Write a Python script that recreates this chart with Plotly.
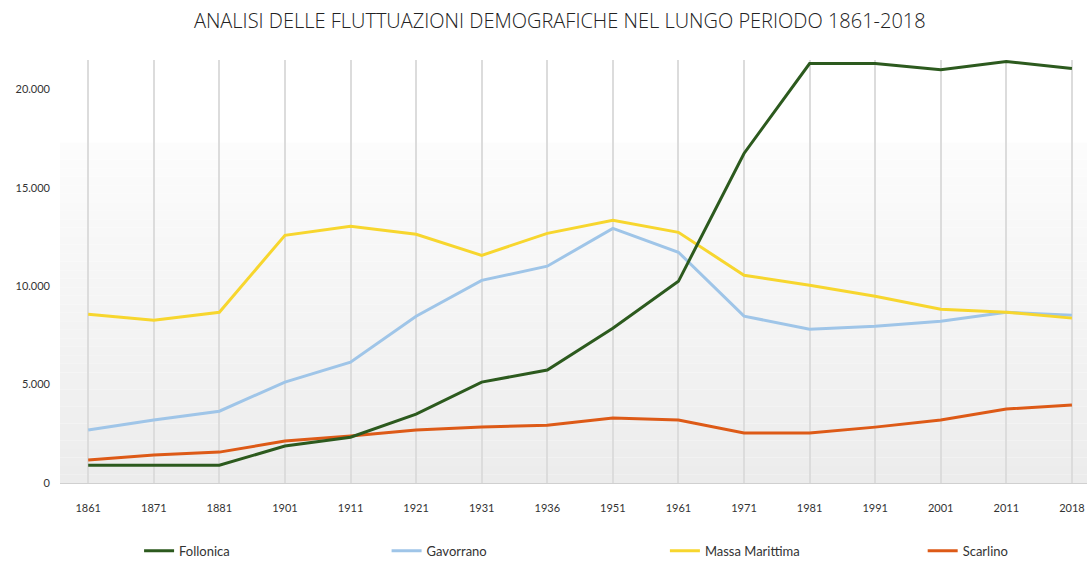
import plotly.graph_objects as go

# Census years (categorical axis)
years = ["1861", "1871", "1881", "1901", "1911", "1921", "1931", "1936",
         "1951", "1961", "1971", "1981", "1991", "2001", "2011", "2018"]

# Resident population per municipality
follonica = [900, 900, 900, 1880, 2330, 3500, 5130, 5740,
             7870, 10250, 16750, 21320, 21320, 21010, 21420, 21070]
gavorrano = [2690, 3200, 3650, 5130, 6140, 8480, 10300, 11020,
             12940, 11730, 8480, 7820, 7970, 8220, 8680, 8530]
massa_marittima = [8580, 8270, 8680, 12590, 13050, 12640, 11570, 12690,
                   13350, 12740, 10560, 10050, 9490, 8830, 8680, 8380]
scarlino = [1170, 1420, 1570, 2130, 2390, 2690, 2840, 2940,
            3300, 3200, 2540, 2540, 2840, 3200, 3760, 3960]

y_ticks = [0, 5000, 10000, 15000, 20000]

# name, values, colour, legend id, legend x (paper, relative to plot area)
series = [
    ("Gavorrano", gavorrano, "#9fc5e8", "legend2", 0.318),
    ("Massa Marittima", massa_marittima, "#f7d62e", "legend3", 0.589),
    ("Scarlino", scarlino, "#dd5a17", "legend4", 0.840),
    ("Follonica", follonica, "#2c5a1e", "legend", 0.077),
]

font_family = "Lato, 'Noto Sans', sans-serif"
legend_font = dict(size=13, color="#333333", family=font_family)

fig = go.Figure()
legends = {}
for name, values, color, leg, lx in series:
    fig.add_trace(go.Scatter(
        x=years, y=values, name=name, mode="lines",
        line=dict(color=color, width=3),
        legend=leg,
    ))
    legends[leg] = dict(
        orientation="h", x=lx, xanchor="left", y=-0.16, yanchor="middle",
        font=legend_font, bgcolor="rgba(0,0,0,0)", itemwidth=30,
    )

# Soft vertical gradient behind the plot (white at top, light grey at bottom)
grad_top = 17300
steps = 40
for i in range(steps):
    y0 = grad_top * i / steps
    y1 = grad_top * (i + 1) / steps
    t = i / (steps - 1)
    g = int(round(236 + (252 - 236) * t))
    fig.add_shape(type="rect", xref="paper", x0=0, x1=1, yref="y", y0=y0, y1=y1,
                  fillcolor=f"rgb({g},{g},{g})", line=dict(width=0), layer="below")

fig.update_layout(
    width=1087, height=562,
    margin=dict(l=60, r=0, t=60, b=79, autoexpand=False),
    paper_bgcolor="white", plot_bgcolor="white",
    separators=",.",
    font=dict(family=font_family, color="#333333", size=10),
    title=dict(
        text="ANALISI DELLE FLUTTUAZIONI DEMOGRAFICHE NEL LUNGO PERIODO 1861-2018",
        x=0.515, xanchor="center", y=0.962, yanchor="middle",
        font=dict(family="'Open Sans', sans-serif", size=20, color="#222222", weight=300),
    ),
    showlegend=True,
    **legends,
)

fig.update_xaxes(
    type="category", range=[-0.43, 15.23],
    showgrid=True, gridcolor="#dcdcdc", gridwidth=1.5,
    showline=True, linecolor="#d0d0d0", linewidth=1,
    ticks="", ticklabelstandoff=15,
    tickfont=dict(size=11, color="#333333"),
    zeroline=False,
)
fig.update_yaxes(
    range=[0, 21500], showgrid=False, zeroline=False, showline=False,
    tickvals=y_ticks, tickformat=",d", ticklabelstandoff=9,
    tickfont=dict(size=11, color="#333333"),
)

fig.write_html("out.html")
